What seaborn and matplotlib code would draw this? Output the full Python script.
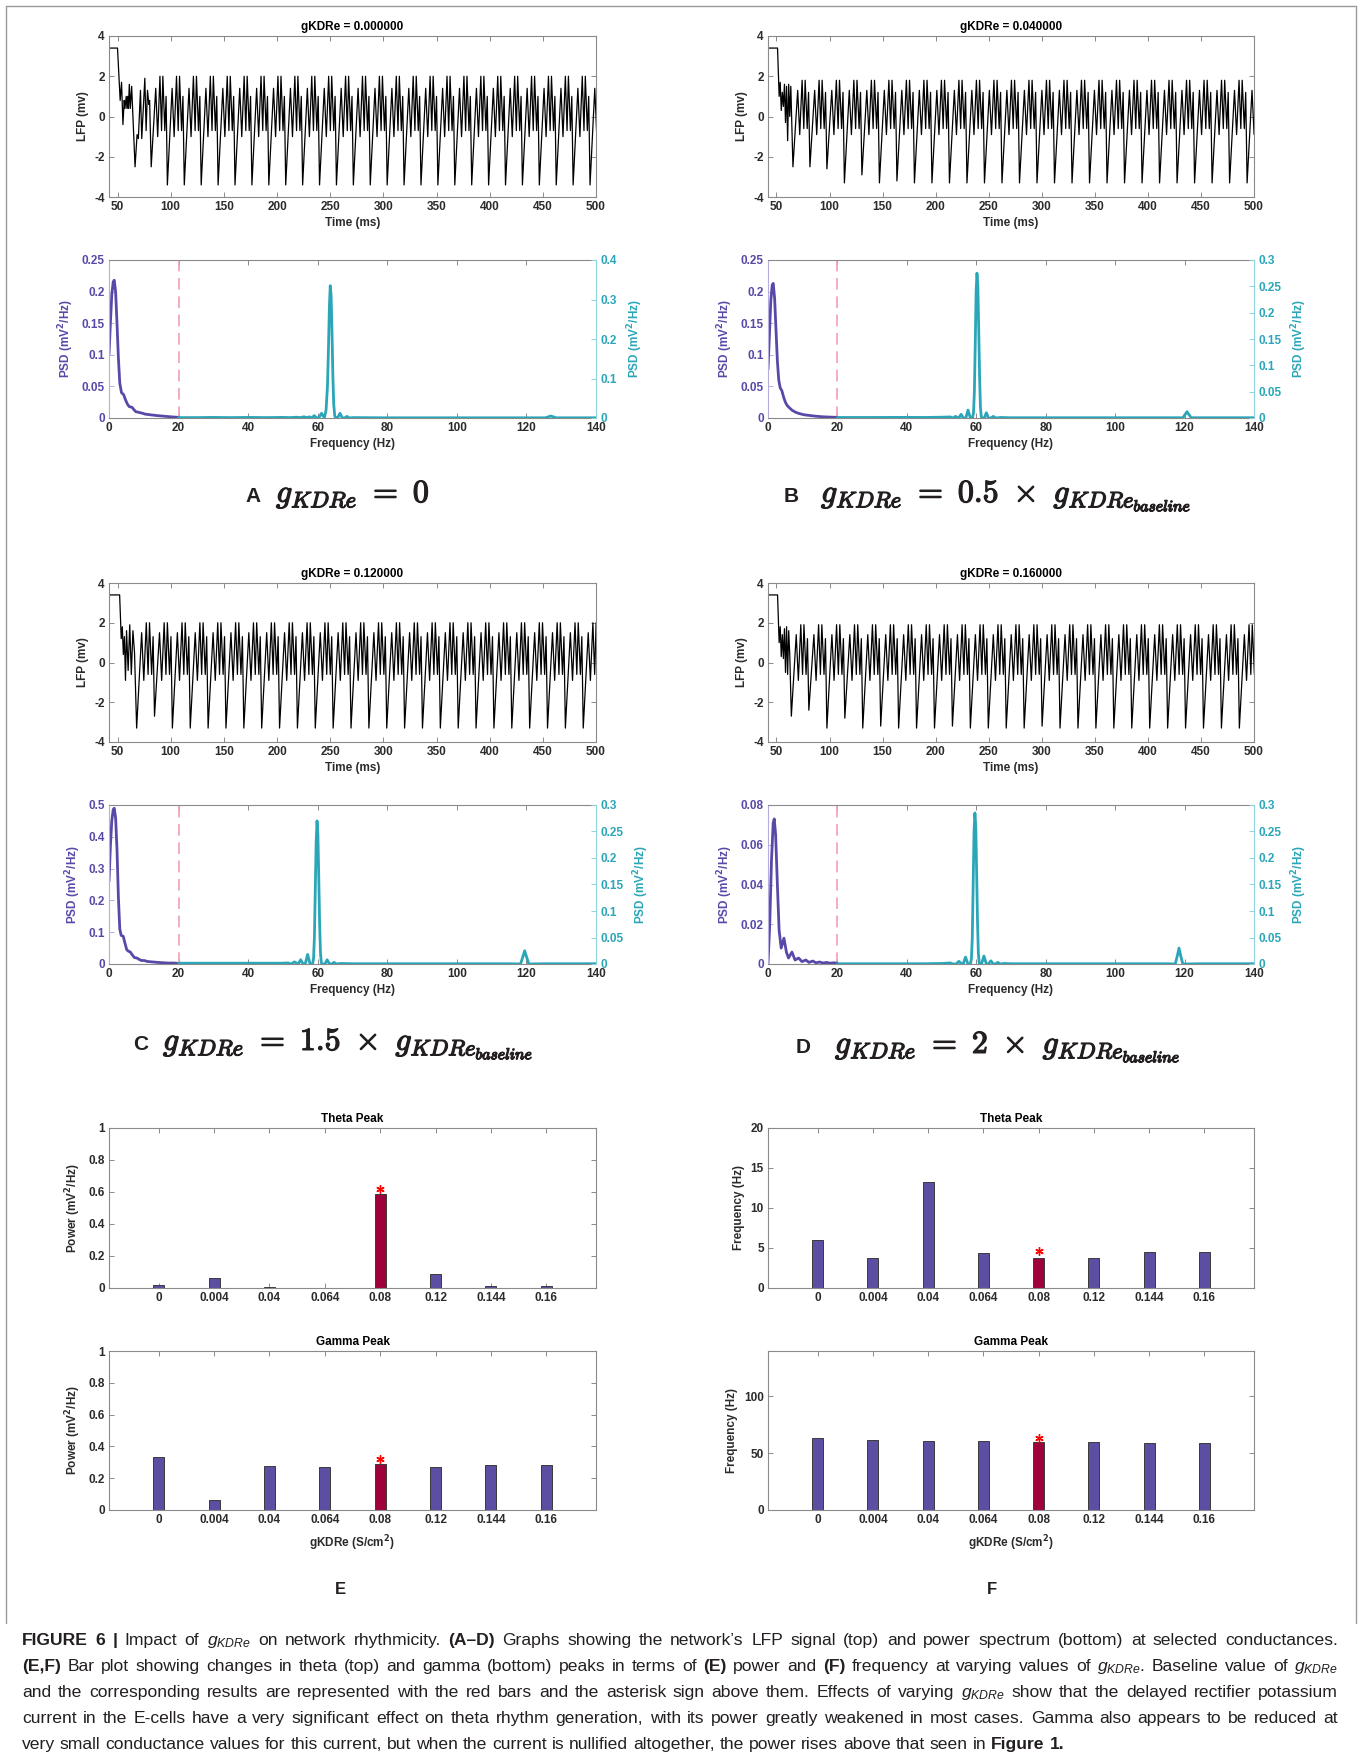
import numpy as np
import pandas as pd
import seaborn as sns
import matplotlib
matplotlib.use("Agg")
import matplotlib.pyplot as plt
from matplotlib.lines import Line2D
import matplotlib.patheffects as pe
from matplotlib import font_manager

# ======================= DATA =======================
lfp_titles = ["gKDRe = 0.000000", "gKDRe = 0.040000", "gKDRe = 0.120000", "gKDRe = 0.160000"]

# --- LFP traces: initial transient vertices, trough times/depths, per-cycle waveform ---
lfpA_init_t = [42, 50, 52.5, 53.8, 55.1, 56.3, 57.0, 58.2, 58.9, 59.6, 60.3, 61.1, 62.0, 63.3, 64.9,
               66.5, 68.4, 69.6, 71.6, 72.8, 75.7, 76.9, 78.2, 79.5, 80.2]
lfpA_init_v = [3.4, 3.4, 0.8, 1.7, -0.4, 0.8, 0.4, 1.0, 0.4, 1.0, 0.4, 1.6, 0.4, 1.5, -0.5,
               -2.5, -0.9, -1.1, 1.3, -1.1, 1.9, -0.7, 1.3, 0.6, 0.8]
lfpA_trough_t = [81.7, 96.9, 112.8, 128.7, 144.6, 160.5, 176.4, 192.3, 208.2, 224.1, 240.0, 255.9,
                 271.8, 287.7, 303.6, 319.5, 335.4, 351.3, 367.2, 383.1, 399.0, 414.9, 430.8,
                 446.7, 462.6, 478.5, 494.4]
lfpA_trough_v = [-2.5] + [-3.4] * 26
lfpA_cycle_phase = [0.28, 0.40, 0.54, 0.64, 0.72, 0.84, 0.92]
lfpA_cycle_v = [1.4, -1.0, 2.0, -0.7, 2.0, -0.7, 1.0]

lfpB_init_t = [42, 51, 52.5, 53.5, 54.5, 55.5, 56.5, 57.5, 58.5, 59.5, 60.5, 61.5, 62.5, 63.5]
lfpB_init_v = [3.4, 3.4, 1.0, 1.7, 0.3, 1.2, 0.5, 1.6, -0.3, 1.5, -1.2, 1.6, 0.0, 1.5]
lfpB_trough_t = [65.5, 81.5, 97.5, 114.0, 130.5, 147.0, 163.5, 180.0, 196.5, 213.0, 229.5, 246.0,
                 262.5, 279.0, 295.5, 312.0, 328.5, 345.0, 361.5, 378.0, 394.5, 411.0, 427.5,
                 444.0, 460.5, 477.0, 493.5]
lfpB_trough_v = [-2.5, -2.5, -2.6, -3.3, -2.9, -3.3, -3.2, -3.3, -3.3, -3.3, -3.3, -3.3, -3.3, -3.3,
                 -3.3, -3.3, -3.3, -3.3, -3.3, -3.3, -3.3, -3.3, -3.3, -3.3, -3.3, -3.3, -3.3]
lfpB_cycle_phase = [0.28, 0.40, 0.54, 0.64, 0.72, 0.84, 0.92]
lfpB_cycle_v = [1.3, -0.9, 1.8, -0.6, 1.8, -0.6, 1.2]

lfpC_init_t = [42, 52, 53.5, 54.5, 55.5, 56.5, 57.5, 58.5, 60.0, 61.5, 63.0, 64.5, 66.0]
lfpC_init_v = [3.4, 3.4, 1.2, 1.8, 0.4, 1.3, -0.9, 1.6, -0.4, 1.9, -0.6, 1.6, 0.5]
lfpC_trough_t = [68.0, 84.8, 101.6, 118.4, 135.2, 152.0, 168.8, 185.6, 202.4, 219.2, 236.0, 252.8,
                 269.6, 286.4, 303.2, 320.0, 336.8, 353.6, 370.4, 387.2, 404.0, 420.8, 437.6,
                 454.4, 471.2, 488.0]
lfpC_trough_v = [-3.3, -2.7, -3.3, -3.3, -3.3, -3.3, -3.3, -3.3, -3.3, -3.3, -3.3, -3.3, -3.3,
                 -3.3, -3.3, -3.3, -3.3, -3.3, -3.3, -3.3, -3.3, -3.3, -3.3, -3.3, -3.3, -3.3]
lfpC_cycle_phase = [0.28, 0.40, 0.54, 0.64, 0.72, 0.84, 0.92]
lfpC_cycle_v = [1.5, -0.9, 2.0, -0.6, 2.0, -0.6, 1.3]

lfpD_init_t = [42, 51, 52.5, 53.5, 54.5, 55.5, 56.5, 57.5, 58.5, 59.5, 60.5, 61.5, 62.5]
lfpD_init_v = [3.4, 3.4, 1.0, 1.8, 0.3, 1.4, 0.2, 1.7, -0.5, 1.8, -0.6, 1.6, 0.4]
lfpD_trough_t = [64.0, 80.5, 97.5, 114.4, 131.3, 148.2, 165.1, 182.0, 198.9, 215.8, 232.7, 249.6,
                 266.5, 283.4, 300.3, 317.2, 334.1, 351.0, 367.9, 384.8, 401.7, 418.6, 435.5,
                 452.4, 469.3, 486.2]
lfpD_trough_v = [-2.7, -2.4, -3.3, -2.8, -3.3, -3.2, -3.3, -3.3, -3.3, -3.2, -3.3, -3.3, -3.3,
                 -3.3, -3.2, -3.3, -3.3, -3.3, -3.3, -3.3, -3.3, -3.3, -3.3, -3.3, -3.3, -3.3]
lfpD_cycle_phase = [0.28, 0.40, 0.54, 0.64, 0.72, 0.84, 0.92]
lfpD_cycle_v = [1.4, -0.9, 1.9, -0.6, 1.9, -0.6, 1.2]

# --- PSD: theta band (left axis, 0-20 Hz) and gamma band (right axis, 20-140 Hz) ---
thetaA_f = [0, 0.4, 0.8, 1.2, 1.5, 1.9, 2.3, 2.7, 3.1, 3.6, 4.2, 4.8, 5.3, 5.8, 6.6, 7.2, 7.7,
            8.5, 9.3, 10.5, 12, 13.5, 15.5, 17.5, 20]
thetaA_v = [0.10, 0.15, 0.195, 0.215, 0.218, 0.2, 0.15, 0.095, 0.055, 0.04, 0.037, 0.028, 0.022,
            0.018, 0.017, 0.013, 0.01, 0.009, 0.008, 0.006, 0.005, 0.004, 0.003, 0.002, 0.001]
gammaA_f = [20, 25, 30, 35, 40, 45, 50, 52, 54, 55, 56, 57, 57.6, 58.3, 59.0, 59.6, 60.3, 61.1,
            61.9, 62.4, 62.8, 63.1, 63.35, 63.6, 63.85, 64.1, 64.35, 64.6, 64.9, 65.3, 65.7,
            66.4, 67.1, 67.7, 68.4, 69.1, 70, 80, 90, 100, 110, 120, 125.5, 126.3, 127.0,
            127.7, 128.5, 135, 140]
gammaA_v = [0.001, 0.001, 0.0015, 0.001, 0.0015, 0.001, 0.0015, 0.001, 0.002, 0.001, 0.003,
            0.001, 0.003, 0.0, 0.006, 0.001, 0.0, 0.012, 0.0, 0.02, 0.08, 0.18, 0.28, 0.335,
            0.31, 0.22, 0.11, 0.035, 0.005, 0.0, 0.0, 0.012, 0.0, 0.0, 0.004, 0.0, 0.001,
            0.0005, 0.0005, 0.0005, 0.0005, 0.0005, 0.0005, 0.003, 0.005, 0.003, 0.0005,
            0.0005, 0.0005]

thetaB_f = [0, 0.4, 0.8, 1.2, 1.5, 1.9, 2.3, 2.7, 3.1, 3.5, 4.0, 4.5, 5.0, 5.5, 6.0, 7.0, 8.0,
            9.0, 10.5, 12, 13.5, 15.5, 17.5, 20]
thetaB_v = [0.077, 0.13, 0.185, 0.21, 0.213, 0.19, 0.14, 0.09, 0.06, 0.048, 0.043, 0.033, 0.025,
            0.02, 0.017, 0.012, 0.009, 0.007, 0.005, 0.004, 0.003, 0.002, 0.0015, 0.001]
gammaB_f = [20, 30, 40, 45, 50, 52.5, 53.3, 54.0, 55.0, 55.6, 56.3, 57.0, 57.6, 58.3, 58.9, 59.2,
            59.45, 59.7, 59.95, 60.2, 60.45, 60.7, 60.95, 61.2, 61.45, 61.8, 62.3, 62.9, 63.5,
            64.2, 64.9, 65.6, 67, 70, 80, 100, 115, 119.5, 120.2, 120.7, 121.2, 121.9, 125, 140]
gammaB_v = [0.001, 0.001, 0.0012, 0.001, 0.0015, 0.002, 0.0, 0.003, 0.0, 0.007, 0.0, 0.0, 0.015,
            0.0, 0.0, 0.01, 0.05, 0.14, 0.24, 0.275, 0.25, 0.17, 0.08, 0.02, 0.002, 0.0, 0.0,
            0.01, 0.0, 0.0, 0.003, 0.0, 0.001, 0.0005, 0.0005, 0.0005, 0.0005, 0.0005, 0.007,
            0.012, 0.007, 0.0005, 0.0005, 0.0005]

thetaC_f = [0, 0.4, 0.8, 1.2, 1.5, 1.9, 2.3, 2.7, 3.1, 3.5, 4.1, 4.6, 5.1, 5.6, 6.1, 6.6, 7.3,
            8.0, 8.6, 9.3, 10.1, 11, 12, 13, 14, 15.5, 17, 18.5, 20]
thetaC_v = [0.26, 0.37, 0.45, 0.485, 0.49, 0.46, 0.36, 0.21, 0.11, 0.09, 0.087, 0.065, 0.045,
            0.04, 0.038, 0.03, 0.02, 0.019, 0.015, 0.011, 0.011, 0.008, 0.007, 0.006, 0.005,
            0.004, 0.003, 0.003, 0.002]
gammaC_f = [20, 30, 40, 45, 49.5, 51.5, 52.4, 53.3, 54.4, 55.1, 55.8, 56.4, 57.1, 57.8, 58.5,
            58.8, 59.05, 59.3, 59.55, 59.8, 60.05, 60.3, 60.55, 60.8, 61.05, 61.4, 62.1, 62.7,
            63.4, 64.0, 64.7, 65.4, 66.6, 70, 80, 100, 115, 118.3, 118.9, 119.5, 120.1, 120.7,
            125, 140]
gammaC_v = [0.0015, 0.0015, 0.0015, 0.0015, 0.0015, 0.002, 0.0, 0.004, 0.0, 0.008, 0.0, 0.0,
            0.018, 0.0, 0.0, 0.01, 0.05, 0.14, 0.23, 0.27, 0.245, 0.165, 0.075, 0.02, 0.002,
            0.0, 0.0, 0.008, 0.0, 0.0, 0.003, 0.0, 0.001, 0.0005, 0.0005, 0.0005, 0.0005, 0.0,
            0.012, 0.025, 0.012, 0.0, 0.0005, 0.0005]

thetaD_f = [0, 0.5, 1.0, 1.5, 1.8, 2.2, 2.7, 3.2, 3.8, 4.6, 5.3, 5.9, 6.9, 7.8, 8.8, 9.8, 10.9,
            11.8, 12.9, 13.8, 14.9, 15.8, 16.9, 17.8, 18.9, 20]
thetaD_v = [0.0, 0.02, 0.052, 0.071, 0.073, 0.065, 0.04, 0.017, 0.008, 0.013, 0.006, 0.003,
            0.006, 0.002, 0.003, 0.0012, 0.002, 0.0008, 0.0015, 0.0006, 0.001, 0.0005, 0.0008,
            0.0004, 0.0006, 0.0004]
gammaD_f = [20, 30, 40, 45, 50, 52.5, 53.3, 54.2, 55.0, 55.8, 56.2, 56.9, 57.6, 58.3, 58.6,
            58.85, 59.1, 59.35, 59.6, 59.85, 60.1, 60.35, 60.6, 60.85, 61.2, 61.5, 62.2, 62.9,
            63.5, 64.2, 64.9, 65.5, 66.2, 66.9, 68, 70, 80, 100, 115, 117.3, 117.9, 118.4,
            118.9, 119.5, 125, 140]
gammaD_v = [0.0005, 0.0005, 0.0005, 0.0005, 0.001, 0.002, 0.0, 0.0, 0.005, 0.0, 0.0, 0.013, 0.0,
            0.0, 0.01, 0.05, 0.15, 0.25, 0.285, 0.26, 0.175, 0.08, 0.02, 0.002, 0.0, 0.0, 0.015,
            0.0, 0.0, 0.006, 0.0, 0.0, 0.003, 0.0, 0.001, 0.0005, 0.0005, 0.0005, 0.0005, 0.0,
            0.015, 0.03, 0.015, 0.0, 0.0005, 0.0005]

psd_left_ticks = [[0, 0.05, 0.1, 0.15, 0.2, 0.25], [0, 0.05, 0.1, 0.15, 0.2, 0.25],
                  [0, 0.1, 0.2, 0.3, 0.4, 0.5], [0, 0.02, 0.04, 0.06, 0.08]]
psd_right_ticks = [[0, 0.1, 0.2, 0.3, 0.4], [0, 0.05, 0.1, 0.15, 0.2, 0.25, 0.3],
                   [0, 0.05, 0.1, 0.15, 0.2, 0.25, 0.3], [0, 0.05, 0.1, 0.15, 0.2, 0.25, 0.3]]

# --- Bar plots ---
gkdre_levels = ["0", "0.004", "0.04", "0.064", "0.08", "0.12", "0.144", "0.16"]
baseline_level = "0.08"
theta_power = [0.018, 0.065, 0.004, 0.003, 0.59, 0.087, 0.012, 0.013]
gamma_power = [0.335, 0.062, 0.277, 0.268, 0.292, 0.272, 0.285, 0.285]
theta_freq = [6.0, 3.7, 13.2, 4.4, 3.7, 3.7, 4.5, 4.5]
gamma_freq = [63.5, 62.0, 60.5, 60.5, 60.0, 59.5, 59.0, 59.0]
star_theta_power = 0.62
star_gamma_power = 0.32
star_theta_freq = 4.6
star_gamma_freq = 63.0

panel_letters = ["A", "B", "C", "D"]
panel_math = [r"$g_{KDRe}\ =\ 0$",
              r"$g_{KDRe}\ =\ 0.5\ \times\ g_{KDRe_{baseline}}$",
              r"$g_{KDRe}\ =\ 1.5\ \times\ g_{KDRe_{baseline}}$",
              r"$g_{KDRe}\ =\ 2\ \times\ g_{KDRe_{baseline}}$"]

caption_lines = [
    "**FIGURE **6 **| Impact of $g_{KDRe}$ on network rhythmicity. **(A–D) Graphs showing the network’s LFP signal (top) and power spectrum (bottom) at selected conductances.",
    "**(E,F) Bar plot showing changes in theta (top) and gamma (bottom) peaks in terms of **(E) power and **(F) frequency at varying values of $g_{KDRe}$. Baseline value of $g_{KDRe}$",
    "and the corresponding results are represented with the red bars and the asterisk sign above them. Effects of varying $g_{KDRe}$ show that the delayed rectifier potassium",
    "current in the E-cells have a very significant effect on theta rhythm generation, with its power greatly weakened in most cases. Gamma also appears to be reduced at",
    "very small conductance values for this current, but when the current is nullified altogether, the power rises above that seen in **Figure **1.",
]

# ======================= STYLE =======================
sns.set_theme(style="white")
CAP_FONT = "Liberation Sans"
plt.rcParams["font.family"] = ["Liberation Sans", "DejaVu Sans"]
plt.rcParams["font.weight"] = "bold"
plt.rcParams["axes.labelweight"] = "bold"
plt.rcParams["axes.unicode_minus"] = False
plt.rcParams["mathtext.fontset"] = "custom"
plt.rcParams["mathtext.rm"] = CAP_FONT + ":weight=normal"
plt.rcParams["mathtext.it"] = CAP_FONT + ":style=italic:weight=normal"
plt.rcParams["mathtext.bf"] = CAP_FONT + ":weight=bold"
plt.rcParams["mathtext.sf"] = CAP_FONT + ":weight=normal"

PURPLE = "#5a48a8"
PURPLE_L = "#b5aee0"
TEAL = "#2aa6b8"
TEAL_L = "#8fd3dc"
GRAY = "#8a8a8a"
TXT = "#2b2b2b"
BAR_P = "#5b4ea3"
BAR_R = "#a0003c"
DASH = "#f2a0b2"

W, H = 1362, 1764
fig = plt.figure(figsize=(W / 100, H / 100), dpi=100)
fig.patch.set_facecolor("white")


def add_ax(l, t, r, b):
    return fig.add_axes([l / W, 1 - b / H, (r - l) / W, (b - t) / H])


def box_style(ax, fs=8.5):
    for s in ax.spines.values():
        s.set_visible(True)
        s.set_color(GRAY)
        s.set_linewidth(0.8)
    ax.tick_params(direction="in", length=3.5, width=0.7, color=GRAY, labelcolor=TXT,
                   labelsize=fs, top=True, right=True, bottom=True, left=True, pad=3)
    ax.grid(False)


def build_lfp(init_t, init_v, tr_t, tr_v, phase, cyc_v):
    t = list(init_t)
    v = list(init_v)
    ends = list(tr_t[1:]) + [tr_t[-1] + (tr_t[-1] - tr_t[-2])]
    for t0, d, t1 in zip(tr_t, tr_v, ends):
        t.append(t0)
        v.append(d)
        for ph, cv in zip(phase, cyc_v):
            t.append(t0 + ph * (t1 - t0))
            v.append(cv)
    return np.array(t), np.array(v)


lfp_data = [
    (lfpA_init_t, lfpA_init_v, lfpA_trough_t, lfpA_trough_v, lfpA_cycle_phase, lfpA_cycle_v),
    (lfpB_init_t, lfpB_init_v, lfpB_trough_t, lfpB_trough_v, lfpB_cycle_phase, lfpB_cycle_v),
    (lfpC_init_t, lfpC_init_v, lfpC_trough_t, lfpC_trough_v, lfpC_cycle_phase, lfpC_cycle_v),
    (lfpD_init_t, lfpD_init_v, lfpD_trough_t, lfpD_trough_v, lfpD_cycle_phase, lfpD_cycle_v),
]
psd_data = [(thetaA_f, thetaA_v, gammaA_f, gammaA_v), (thetaB_f, thetaB_v, gammaB_f, gammaB_v),
            (thetaC_f, thetaC_v, gammaC_f, gammaC_v), (thetaD_f, thetaD_v, gammaD_f, gammaD_v)]

cols = [(109, 596), (768, 1254)]
lfp_rows = [(36, 197), (583, 742)]
psd_rows = [(260, 418), (805, 964)]
label_pos = [(245, 276, 502), (784, 821, 502), (133, 163, 1050), (796, 835, 1053)]

for i in range(4):
    c = cols[i % 2]
    r = i // 2
    # ---- LFP ----
    ax = add_ax(c[0], lfp_rows[r][0], c[1], lfp_rows[r][1])
    t, v = build_lfp(*lfp_data[i])
    sns.lineplot(x=t, y=v, ax=ax, color="black", linewidth=0.9, estimator=None, sort=False)
    ax.set_xlim(42, 500)
    ax.set_ylim(-4, 4)
    ax.set_xticks(range(50, 501, 50))
    ax.set_yticks([-4, -2, 0, 2, 4])
    box_style(ax)
    ax.set_xlabel("Time (ms)", fontsize=8.5, color=TXT, labelpad=3)
    ax.set_ylabel("LFP (mv)", fontsize=8.5, color=TXT, labelpad=4)
    ax.set_title(lfp_titles[i], fontsize=8.5, fontweight="bold", color="black", pad=4)

    # ---- PSD ----
    ax = add_ax(c[0], psd_rows[r][0], c[1], psd_rows[r][1])
    ax2 = ax.twinx()
    tf, tv, gf, gv = psd_data[i]
    ax.axvline(20, color=DASH, linestyle=(0, (7, 4)), linewidth=1.2, zorder=1)
    sns.lineplot(x=np.array(tf), y=np.array(tv), ax=ax, color=PURPLE, linewidth=2.0,
                 estimator=None, sort=False)
    sns.lineplot(x=np.array(gf), y=np.array(gv), ax=ax2, color=TEAL, linewidth=2.0,
                 estimator=None, sort=False)
    ax.set_xlim(0, 140)
    ax.set_xticks(range(0, 141, 20))
    lt = psd_left_ticks[i]
    rt = psd_right_ticks[i]
    ax.set_ylim(0, lt[-1])
    ax.set_yticks(lt)
    ax.set_yticklabels([f"{x:g}" for x in lt])
    ax2.set_ylim(0, rt[-1])
    ax2.set_yticks(rt)
    ax2.set_yticklabels([f"{x:g}" for x in rt])
    box_style(ax)
    ax.tick_params(axis="y", right=False, color=PURPLE_L, labelcolor=PURPLE)
    for s in ax2.spines.values():
        s.set_visible(False)
    ax2.spines["right"].set_visible(True)
    ax2.spines["right"].set_color(TEAL_L)
    ax2.spines["right"].set_linewidth(0.8)
    ax.spines["left"].set_color(PURPLE_L)
    ax.spines["right"].set_visible(False)
    ax2.tick_params(axis="y", direction="in", length=3.5, width=0.7, color=TEAL_L,
                    labelcolor=TEAL, labelsize=8.5, pad=3)
    ax2.grid(False)
    ax.set_xlabel("Frequency (Hz)", fontsize=8.5, color=TXT, labelpad=3)
    ax.set_ylabel(r"PSD (mV$^\mathbf{2}$/Hz)", fontsize=8.5, color=PURPLE, labelpad=4)
    ax2.set_ylabel(r"PSD (mV$^\mathbf{2}$/Hz)", fontsize=8.5, color=TEAL, rotation=90,
                   labelpad=6)
    ax.yaxis.label.set_math_fontfamily("dejavusans")
    ax2.yaxis.label.set_math_fontfamily("dejavusans")

    # ---- panel label ----
    lx, mx, ly = label_pos[i]
    fig.text(lx / W, 1 - ly / H, panel_letters[i], fontsize=15, fontweight="bold",
             color="#231f20", ha="left", va="baseline")
    fig.text(mx / W, 1 - ly / H, panel_math[i], fontsize=23, color="#231f20", ha="left",
             va="baseline", math_fontfamily="cm",
             path_effects=[pe.withStroke(linewidth=0.9, foreground="#231f20")])

# ---- bar plots ----
bar_rows = [(1128, 1288), (1351, 1510)]
bar_specs = [
    (0, 0, theta_power, star_theta_power, "Theta Peak", r"Power (mV$^\mathbf{2}$/Hz)", (0, 1), [0, 0.2, 0.4, 0.6, 0.8, 1]),
    (1, 0, theta_freq, star_theta_freq, "Theta Peak", "Frequency (Hz)", (0, 20), [0, 5, 10, 15, 20]),
    (0, 1, gamma_power, star_gamma_power, "Gamma Peak", r"Power (mV$^\mathbf{2}$/Hz)", (0, 1), [0, 0.2, 0.4, 0.6, 0.8, 1]),
    (1, 1, gamma_freq, star_gamma_freq, "Gamma Peak", "Frequency (Hz)", (0, 140), [0, 50, 100]),
]
pal = {g: (BAR_R if g == baseline_level else BAR_P) for g in gkdre_levels}
for ci, ri, vals, star, title, ylab, ylim, yt in bar_specs:
    c = cols[ci]
    ax = add_ax(c[0], bar_rows[ri][0], c[1], bar_rows[ri][1])
    df = pd.DataFrame({"g": gkdre_levels, "v": vals})
    sns.barplot(data=df, x="g", y="v", hue="g", order=gkdre_levels, hue_order=gkdre_levels,
                palette=pal, legend=False, width=0.2, saturation=1, edgecolor="#3a3a3a",
                linewidth=0.7, ax=ax)
    ax.plot([baseline_level], [star], linestyle="none", marker=(6, 2, 0), markersize=6,
            markeredgewidth=1.0, color="red")
    ax.set_xlim(-0.9, 7.9)
    ax.set_ylim(*ylim)
    ax.set_yticks(yt)
    ax.set_yticklabels([f"{x:g}" for x in yt])
    box_style(ax)
    ax.set_title(title, fontsize=8.5, fontweight="bold", color="black", pad=4)
    ax.set_ylabel(ylab, fontsize=8.5, color=TXT, labelpad=4)
    ax.yaxis.label.set_math_fontfamily("dejavusans")
    if ri == 1:
        ax.set_xlabel(r"gKDRe (S/cm$^\mathbf{2}$)", fontsize=8.5, color=TXT, labelpad=5)
        ax.xaxis.label.set_math_fontfamily("dejavusans")
    else:
        ax.set_xlabel("")

fig.text(340 / W, 1 - 1589 / H, "E", fontsize=12, fontweight="bold", color="#231f20",
         ha="center", va="center")
fig.text(992 / W, 1 - 1589 / H, "F", fontsize=12, fontweight="bold", color="#231f20",
         ha="center", va="center")

# ---- frame ----
fc = "#9a9a9a"
fig.add_artist(Line2D([6 / W, 1356 / W], [1 - 6 / H, 1 - 6 / H], transform=fig.transFigure,
                      color=fc, linewidth=1.0))
fig.add_artist(Line2D([6 / W, 6 / W], [1 - 6 / H, 1 - 1623 / H], transform=fig.transFigure,
                      color=fc, linewidth=1.0))
fig.add_artist(Line2D([1356 / W, 1356 / W], [1 - 6 / H, 1 - 1623 / H],
                      transform=fig.transFigure, color=fc, linewidth=1.0))

# ---- caption (justified) ----
CAP_FS = 12.6
renderer = fig.canvas.get_renderer()
cap_base = [1645, 1671, 1697, 1723, 1749]
for li, (line, yb) in enumerate(zip(caption_lines, cap_base)):
    arts = []
    for w in line.split(" "):
        bold = w.startswith("**")
        s = w[2:] if bold else w
        arts.append(fig.text(0, 1 - yb / H, s, fontsize=CAP_FS, family=CAP_FONT,
                             fontweight="bold" if bold else "normal", color="#231f20",
                             ha="left", va="baseline", math_fontfamily="custom"))
    widths = [a.get_window_extent(renderer).width for a in arts]
    x0, x1 = 22, 1338
    if li < len(caption_lines) - 1:
        gap = (x1 - x0 - sum(widths)) / (len(arts) - 1)
    else:
        gap = CAP_FS * 0.278 * 100 / 72
    x = x0
    for a, wd in zip(arts, widths):
        a.set_x(x / W)
        x += wd + gap

fig.savefig("out.png", dpi=100, facecolor="white")
